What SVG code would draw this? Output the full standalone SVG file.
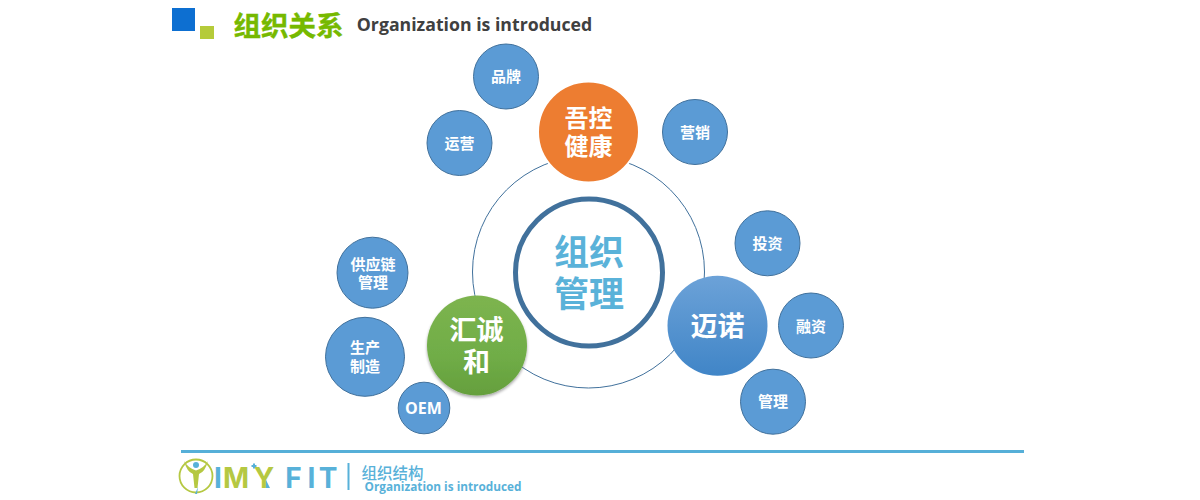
<svg xmlns="http://www.w3.org/2000/svg" width="1200" height="500" viewBox="0 0 1200 500">
<style>
text{font-family:"Open Sans","Noto Sans CJK SC",sans-serif;font-weight:700;text-anchor:middle}
.cjk{font-family:"Noto Sans CJK SC",sans-serif}
.s{fill:#5b9bd5;stroke:#41719c;stroke-width:1}
.st{fill:#fff;font-size:15px}
.bt{fill:#fff;font-size:24px}
.lg{fill:#58b1d9}
.lgn{fill:#b5c842}
</style>
<defs>
<linearGradient id="gGreen" x1="0" y1="0" x2="0" y2="1"><stop offset="0" stop-color="#7db44f"/><stop offset="0.6" stop-color="#70ad47"/><stop offset="1" stop-color="#659f3d"/></linearGradient>
<linearGradient id="gBlue" x1="0" y1="0" x2="0" y2="1"><stop offset="0" stop-color="#6ca2d8"/><stop offset="1" stop-color="#4085c7"/></linearGradient>
<filter id="sh" x="-20%" y="-20%" width="140%" height="140%"><feGaussianBlur in="SourceAlpha" stdDeviation="1.500"/><feOffset dy="2"/><feComponentTransfer><feFuncA type="linear" slope="0.35"/></feComponentTransfer><feMerge><feMergeNode/><feMergeNode in="SourceGraphic"/></feMerge></filter>
</defs>
<rect width="1200" height="500" fill="#fff"/>
<g id="header">
<rect x="172" y="8" width="23" height="23" fill="#0d6fd1"/>
<rect x="200" y="26" width="14" height="13" fill="#b5cb3a"/>
<text class="cjk" x="288.500" y="36" font-size="27.500" fill="#76b900" stroke="#76b900" stroke-width="0.400">组织关系</text>
<text x="474.500" y="31" font-size="17.700" fill="#404040">Organization is introduced</text>
</g>
<g id="connectors">
<circle cx="588.500" cy="272" r="116" fill="none" stroke="#41719c" stroke-width="1"/>
</g>
<g id="center"><circle cx="589" cy="272.500" r="73.500" fill="#fff" stroke="#41719c" stroke-width="5"/>
<text class="cjk" x="589" y="264.500" font-size="35" fill="#5ab2d9">组织</text><text class="cjk" x="589" y="307" font-size="35" fill="#5ab2d9">管理</text></g>
<g id="wukong"><circle cx="588.500" cy="132" r="50.500" fill="#ed7d31" stroke="#fff" stroke-width="2"/>
<text class="cjk bt" x="588.500" y="127">吾控</text><text class="cjk bt" x="588.500" y="154.500">健康</text></g>
<g id="huichenghe"><circle cx="477" cy="345.500" r="50" fill="url(#gGreen)" filter="url(#sh)"/>
<text class="cjk" x="476.500" y="339.500" font-size="27" fill="#fff">汇诚</text><text class="cjk" x="476.500" y="371.500" font-size="27" fill="#fff">和</text></g>
<g id="maino"><circle cx="717.500" cy="325.700" r="50" fill="url(#gBlue)"/>
<text class="cjk" x="717.500" y="335.500" font-size="27" fill="#fff">迈诺</text></g>
<g id="pinpai"><circle class="s" cx="506" cy="76.500" r="32.500"/><text class="cjk st" x="506" y="82">品牌</text></g>
<g id="yunying"><circle class="s" cx="459.500" cy="143" r="32.500"/><text class="cjk st" x="459.500" y="148.500">运营</text></g>
<g id="yingxiao"><circle class="s" cx="695" cy="132" r="32.500"/><text class="cjk st" x="695" y="137.500">营销</text></g>
<g id="touzi"><circle class="s" cx="767.500" cy="243.300" r="32.500"/><text class="cjk st" x="767.500" y="248.500">投资</text></g>
<g id="rongzi"><circle class="s" cx="811" cy="325.500" r="32.500"/><text class="cjk st" x="811" y="331.500">融资</text></g>
<g id="guanli"><circle class="s" cx="773" cy="401.700" r="32.500"/><text class="cjk st" x="773" y="407">管理</text></g>
<g id="supply"><circle class="s" cx="372.500" cy="272.700" r="35.500"/><text class="cjk st" x="373" y="269.500">供应链</text><text class="cjk st" x="373" y="288">管理</text></g>
<g id="production"><circle class="s" cx="365" cy="356.800" r="39.500"/><text class="cjk st" x="365" y="352.500">生产</text><text class="cjk st" x="365" y="371.500">制造</text></g>
<g id="oem"><circle class="s" cx="424" cy="408" r="25.800"/><text x="423.500" y="414" fill="#fff" font-size="16">OEM</text></g>
<g id="footer">
<rect x="181" y="450" width="843" height="3" fill="#56afd8"/>
<circle cx="196" cy="476" r="16.500" fill="none" stroke="#b5c842" stroke-width="1.800"/>
<path d="M184 461Q187 472 193 474L194.500 488H197.500L199 474Q205 472 208 461Q204 468 196 470.500Q188 468 184 461Z" fill="#b5c842"/>
<circle cx="196" cy="465" r="3" fill="#58b1d9"/>
<path d="M198 487L195 494L197 494Z" fill="#58b1d9"/>
<text y="488" font-size="28" style="font-family:'Inter',sans-serif;font-weight:700"><tspan class="lg" x="218">I</tspan><tspan class="lgn" x="236">M</tspan><tspan class="lgn" x="264">Y</tspan><tspan class="lg" x="293.500">F</tspan><tspan class="lg" x="311.500">I</tspan><tspan class="lg" x="328">T</tspan></text>
<path d="M251.500 466H256.500M254 463.500V468.500" stroke="#58b1d9" stroke-width="2" fill="none"/>
<path d="M266 480L270 488H266Z" fill="#58b1d9"/>
<rect x="347.500" y="463" width="2" height="27" fill="#58b1d9"/>
<text class="cjk lg" x="392.500" y="479" font-size="15.500" style="font-weight:500">组织结构</text>
<text class="lg" x="443" y="491" font-size="11.800">Organization is introduced</text>
</g>
</svg>
